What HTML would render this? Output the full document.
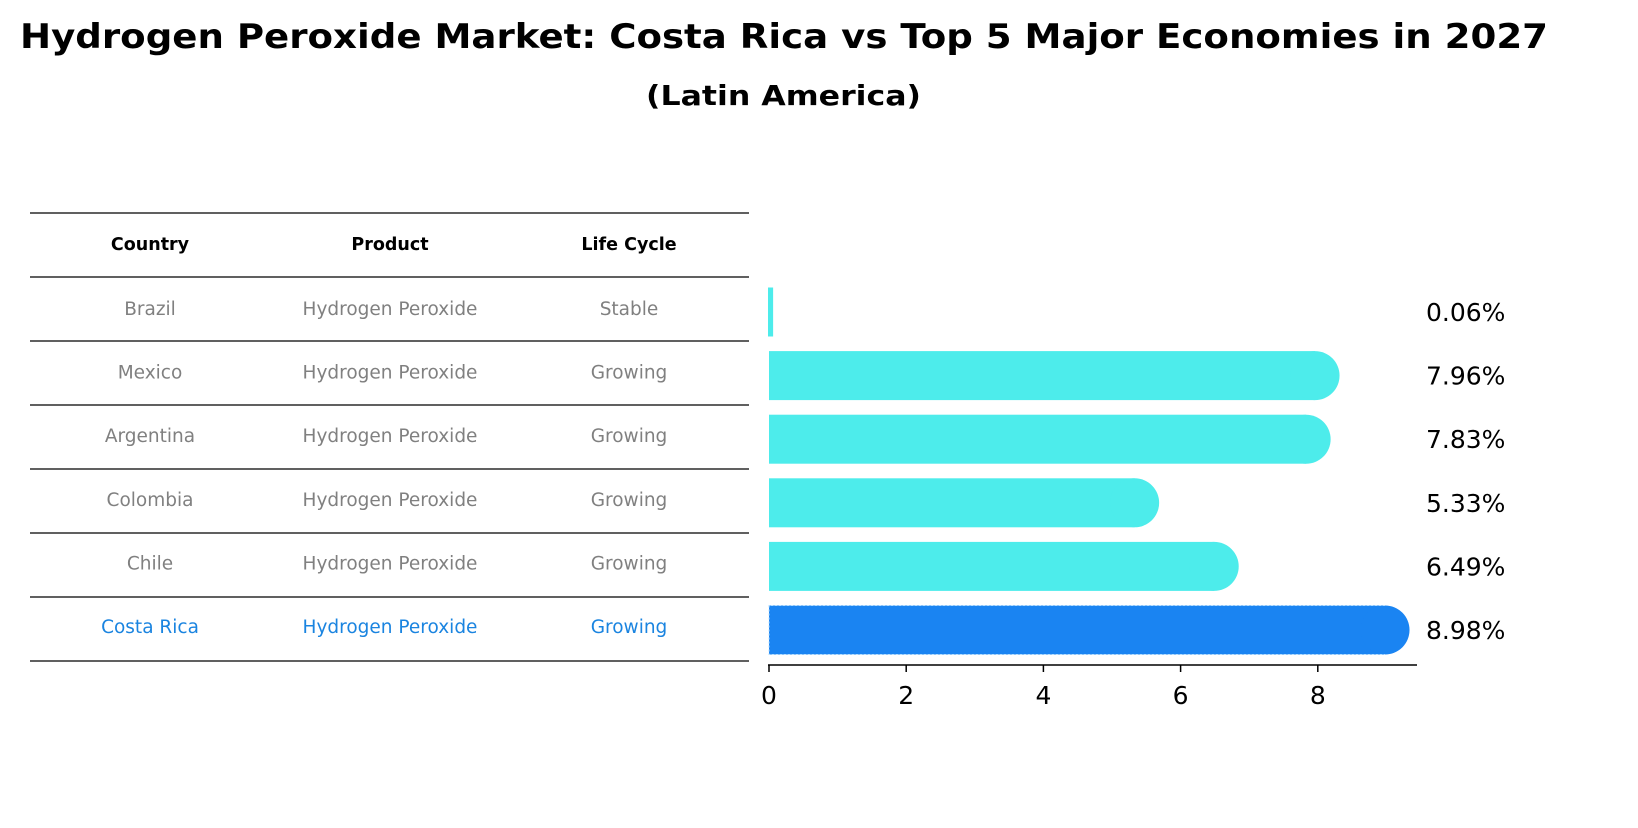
<!DOCTYPE html>
<html><head><meta charset="utf-8"><style>
body{margin:0;background:#fff;width:1638px;height:823px;overflow:hidden;font-family:"Liberation Sans","DejaVu Sans",sans-serif}
</style></head><body>
<svg width="1638" height="823" xmlns="http://www.w3.org/2000/svg">
<text x="20" y="48" textLength="1528" lengthAdjust="spacingAndGlyphs" font-size="34" font-weight="bold" font-family="DejaVu Sans, sans-serif">Hydrogen Peroxide Market: Costa Rica vs Top 5 Major Economies in 2027</text>
<text x="646" y="105" textLength="275" lengthAdjust="spacingAndGlyphs" font-size="28" font-weight="bold" font-family="DejaVu Sans, sans-serif">(Latin America)</text>
<g id="table"></g>
<g id="bars"></g>
</svg>
<script>
const countries=["Brazil","Mexico","Argentina","Colombia","Chile","Costa Rica"];
const products=["Hydrogen Peroxide","Hydrogen Peroxide","Hydrogen Peroxide","Hydrogen Peroxide","Hydrogen Peroxide","Hydrogen Peroxide"];
const lifeCycles=["Stable","Growing","Growing","Growing","Growing","Growing"];
const values=[0.06,7.96,7.83,5.33,6.49,8.98];
const ticks=[0,2,4,6,8];
const NS="http://www.w3.org/2000/svg";
function mk(t,a,p){const e=document.createElementNS(NS,t);for(const k in a)e.setAttribute(k,a[k]);p.appendChild(e);return e;}
const tbl=document.getElementById('table'),bars=document.getElementById('bars');
const x=v=>769+v*68.6;
const rowY=i=>309+i*63.6;
const cols=[150,390,629];
[213,277].forEach(y=>{const l=mk('line',{x1:30,x2:749,y1:y,y2:y,stroke:'#000','stroke-width':1.2},tbl);});
["Country","Product","Life Cycle"].forEach((h,j)=>{const t=mk('text',{x:cols[j],y:250,'text-anchor':'middle','font-size':17.5,'font-weight':'bold','font-family':'DejaVu Sans, sans-serif'},tbl);t.textContent=h;});
countries.forEach((c,i)=>{
 const col=i===countries.length-1?'#1a84e0':'#808080';
 [c,products[i],lifeCycles[i]].forEach((s,j)=>{const t=mk('text',{x:cols[j],y:rowY(i)+6,'text-anchor':'middle','font-size':18.5,fill:col,'font-family':'DejaVu Sans, sans-serif'},tbl);t.textContent=s;});
 const ly=341+i*64;const l=mk('line',{x1:30,x2:749,y1:ly,y2:ly,stroke:'#000','stroke-width':1.2},tbl);
 const cy=rowY(i)+3,h=49,v=values[i];const hl=i===countries.length-1;
 const fill=hl?'#1a84f2':'#4deceb';
 const g=mk('g',{},bars);
 if(v>0.5){mk('rect',{x:769,y:cy-h/2,width:x(v)-769,height:h,fill:fill},g);mk('circle',{cx:x(v),cy:cy,r:h/2,fill:fill},g);}
 else mk('rect',{x:768,y:cy-h/2,width:Math.max(4,x(v)-769+1),height:h,fill:fill},g);
 if(hl)mk('path',{d:`M${x(v)},${cy-h/2} H769 V${cy+h/2} H${x(v)}`,fill:'none',stroke:'#b8e0ff','stroke-width':1,'stroke-dasharray':'2,2'},g);
 const t=mk('text',{x:1426,y:cy+9,'font-size':25,'font-family':'DejaVu Sans, sans-serif'},bars);t.textContent=v.toFixed(2)+'%';
});
const ax=mk('line',{x1:768,x2:1417,y1:665,y2:665,stroke:'#000','stroke-width':1.5},bars);
ticks.forEach(v=>{const l=mk('line',{x1:x(v),x2:x(v),y1:665,y2:672,stroke:'#000','stroke-width':1.5},bars);
 const t=mk('text',{x:x(v),y:704,'text-anchor':'middle','font-size':25,'font-family':'DejaVu Sans, sans-serif'},bars);t.textContent=v;});
</script>
</body></html>
